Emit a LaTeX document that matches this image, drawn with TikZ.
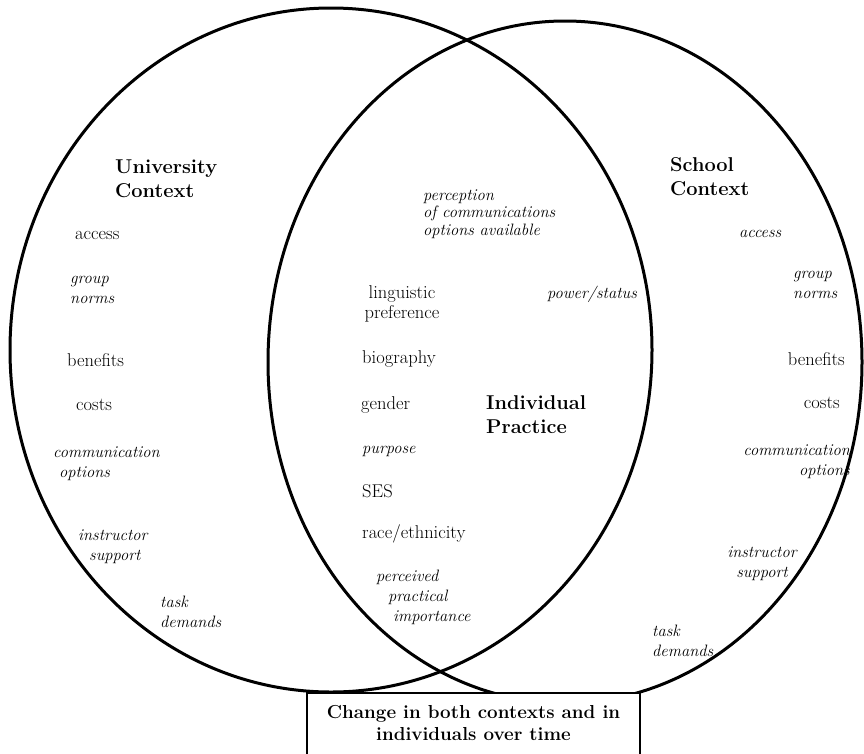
\documentclass[tikz,border=0pt]{standalone}
\usepackage{fontspec}
\usepackage{tikz}
\usetikzlibrary{positioning}
\newcommand{\lblsize}{\fontsize{18.5}{20}\selectfont}
\newcommand{\itsize}{\fontsize{16.5}{20}\selectfont\itshape}
\newcommand{\headsize}{\fontsize{20}{24}\selectfont\bfseries}

\begin{document}
\begin{tikzpicture}[x=1pt,y=-1pt,
  ring/.style={line width=3pt},
  txt/.style={anchor=base west,align=left,inner sep=0pt,font=\lblsize},
  txtr/.style={txt,anchor=base east,align=right},
  txtc/.style={txt,anchor=base,align=center},
  it/.style={font=\itsize},
  head/.style={anchor=base west,align=left,inner sep=0pt,font=\headsize}]
 \useasboundingbox (0,0) rectangle (864,753);
 % the two contexts
 \draw[ring] (331,350) ellipse [x radius=321, y radius=342];
 \draw[ring] (565,362) ellipse [x radius=297, y radius=341];
 % university side (multi-line nodes sit on their last baseline)
 \node[head] (uni) at (115,197) {University\\Context};
 \node[txt] (uacc) at (75,239) {access};
 \node[txt,it] (unorm) at (70,303) {group\\norms};
 \node[txt] (uben) at (67,366) {benefits};
 \node[txt] (ucost) at (76,410) {costs};
 \node[txt,it] (ucomm) at (53,477) {communication\\\hspace*{6pt}options};
 \node[txt,it] (uinst) at (78,560) {instructor\\\hspace*{11pt}support};
 \node[txt,it] (utask) at (160,627) {task\\demands};
 % individual practice
 \node[txt,font=\fontsize{16.5}{17.5}\selectfont\itshape] (perc) at (423,235)
   {perception\\of communications\\options available};
 \node[txtc] (ling) at (402,318) {linguistic\\preference};
 \node[txt,it] (power) at (547,298) {power/status};
 \node[txt] (bio) at (362,363) {biography};
 \node[txt] (gend) at (361,409) {gender};
 \node[head] (indiv) at (486,433) {Individual\\Practice};
 \node[txt,it] (purp) at (362,453) {purpose};
 \node[txt] (ses) at (362,497) {SES};
 \node[txt] (race) at (362,538) {race/ethnicity};
 \node[txt,it] (pimp) at (376,621)
   {perceived\\\hspace*{12pt}practical\\\hspace*{17pt}importance};
 % school side
 \node[head] (school) at (670,195) {School\\Context};
 \node[txt,it] (sacc) at (739,237) {access};
 \node[txt,it] (snorm) at (793,298) {group\\norms};
 \node[txtr] (sben) at (845,365) {benefits};
 \node[txtr] (scost) at (840,408) {costs};
 \node[txtr,it] (scomm) at (850,475) {communication\\options};
 \node[txtc,it] (sinst) at (762,577) {instructor\\support};
 \node[txt,it] (stask) at (652,656) {task\\demands};
 % change over time
 \node[draw,line width=1.6pt,fill=white,anchor=base,align=center,
   inner sep=0pt,minimum width=333pt,text height=47pt,text depth=30pt,
   font=\fontsize{18.8}{22}\selectfont\bfseries] (change) at (473.5,740)
   {Change in both contexts and in\\individuals over time};
\end{tikzpicture}
\end{document}
